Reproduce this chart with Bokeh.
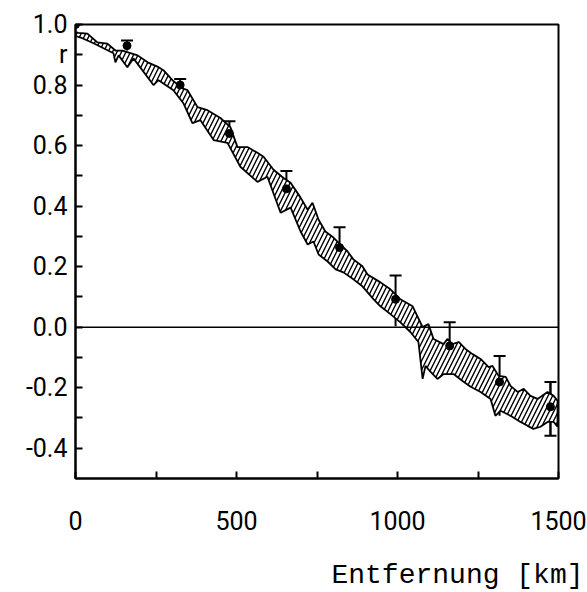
from bokeh.plotting import figure
from bokeh.models import (Range1d, FixedTicker, Span, Whisker, TeeHead,
                          ColumnDataSource, Title)
from bokeh.embed import file_html
from bokeh.resources import INLINE

# ---- data ----
upper_x = [0, 9, 37, 68, 99, 124, 146, 193, 224, 258, 273, 301, 332, 348, 379, 410,
           450, 481, 503, 534, 565, 584, 615, 646, 668, 699, 721, 736, 755, 776, 801,
           823, 845, 863, 891, 907, 947, 978, 1009, 1047, 1062, 1078, 1096, 1112, 1143,
           1155, 1171, 1190, 1211, 1233, 1258, 1283, 1295, 1314, 1336, 1351, 1373, 1392,
           1413, 1435, 1466, 1485, 1497]
upper_r = [0.975, 0.972, 0.970, 0.941, 0.937, 0.914, 0.914, 0.898, 0.875, 0.859, 0.849,
           0.816, 0.789, 0.783, 0.727, 0.717, 0.691, 0.661, 0.595, 0.595, 0.576, 0.563,
           0.520, 0.493, 0.477, 0.428, 0.388, 0.411, 0.355, 0.316, 0.296, 0.273, 0.250,
           0.224, 0.201, 0.174, 0.148, 0.125, 0.092, 0.069, 0.036, 0.000, 0.010, -0.039,
           -0.056, -0.039, -0.056, -0.049, -0.072, -0.089, -0.105, -0.132, -0.128,
           -0.161, -0.164, -0.194, -0.214, -0.204, -0.227, -0.237, -0.214, -0.227, -0.243]
lower_x = [0, 16, 56, 118, 124, 134, 161, 180, 242, 258, 304, 335, 363, 388, 429, 472,
           512, 565, 596, 637, 668, 699, 721, 739, 755, 783, 808, 832, 863, 891, 926,
           947, 978, 1009, 1040, 1065, 1078, 1087, 1103, 1124, 1143, 1174, 1202, 1227,
           1258, 1289, 1304, 1320, 1351, 1382, 1404, 1422, 1444, 1466, 1485, 1497]
lower_r = [0.962, 0.957, 0.938, 0.905, 0.875, 0.898, 0.859, 0.888, 0.800, 0.816, 0.783,
           0.740, 0.674, 0.684, 0.618, 0.609, 0.530, 0.480, 0.497, 0.378, 0.395, 0.316,
           0.273, 0.283, 0.240, 0.217, 0.191, 0.181, 0.158, 0.135, 0.092, 0.069, 0.043,
           0.016, -0.016, -0.049, -0.171, -0.128, -0.148, -0.171, -0.155, -0.155,
           -0.178, -0.197, -0.214, -0.237, -0.293, -0.276, -0.293, -0.313, -0.326,
           -0.336, -0.329, -0.313, -0.313, -0.329]

pt_x = [160, 325, 478, 655, 820, 994, 1162, 1317, 1475]
pt_r = [0.930, 0.800, 0.640, 0.457, 0.263, 0.092, -0.062, -0.181, -0.263]
pt_hi = [0.947, 0.820, 0.680, 0.516, 0.330, 0.171, 0.016, -0.095, -0.181]
pt_lo = [0.914, 0.780, 0.610, 0.395, 0.200, 0.003, -0.155, -0.293, -0.359]

origin_x = [0]
origin_r = [1.0]

x_major = [0, 500, 1000, 1500]
x_minor = [250, 750, 1250]
x_tick_labels = ["0", "500", "1000", "1500"]
y_major = [-0.4, -0.2, 0.0, 0.2, 0.4, 0.6, 0.8, 0.9, 1.0]
y_minor = [-0.3, -0.1, 0.1, 0.3, 0.5, 0.7]
y_tick_labels = ["-0.4", "-0.2", "0.0", "0.2", "0.4", "0.6", "0.8", "r", "1.0"]
x_title = "Entfernung [km]"

FONT = "Roboto"
W, H = 587, 592

p = figure(width=W, height=H, output_backend="svg", toolbar_location=None,
           x_range=Range1d(0, 1500), y_range=Range1d(-0.5, 1.0),
           min_border_left=75, min_border_right=W - 558, min_border_top=24,
           min_border_bottom=H - 478, background_fill_color="white",
           border_fill_color="white")
p.xgrid.visible = False
p.ygrid.visible = False
p.outline_line_color = "black"
p.outline_line_width = 2

for ax in (p.xaxis[0], p.yaxis[0]):
    ax.axis_line_width = 2
    ax.major_tick_in = 7
    ax.major_tick_out = 0
    ax.minor_tick_in = 7
    ax.minor_tick_out = 0
    ax.major_tick_line_width = 2
    ax.minor_tick_line_width = 2
    ax.major_label_text_font = FONT
    ax.major_label_text_font_size = "25px"
    ax.major_label_text_color = "black"

p.xaxis[0].ticker = FixedTicker(ticks=x_major, minor_ticks=x_minor)
p.xaxis[0].major_label_overrides = dict(zip(x_major, x_tick_labels))
p.xaxis[0].major_label_standoff = 32
# invisible spacer label that pushes the right-aligned title further down
p.xaxis[0].axis_label = " "
p.xaxis[0].axis_label_text_font_size = "12px"
p.xaxis[0].axis_label_standoff = 8
p.yaxis[0].ticker = FixedTicker(ticks=y_major, minor_ticks=y_minor)
p.yaxis[0].major_label_overrides = dict(zip(y_major, y_tick_labels))
p.yaxis[0].major_label_standoff = 8

# x-axis title, right aligned below
p.add_layout(Title(text=x_title, align="right", text_font="Liberation Mono",
                   text_font_size="28px", text_font_style="normal",
                   text_color="black", offset=-25, standoff=0), "below")

# zero line
p.add_layout(Span(location=0, dimension="width", line_color="black", line_width=1.5))

# hatched band
band_x = upper_x + lower_x[::-1]
band_y = upper_r + lower_r[::-1]
p.patch(band_x, band_y, fill_color="white", fill_alpha=1.0, line_color="black",
        line_width=1.8, hatch_pattern="/", hatch_color="black", hatch_scale=9,
        hatch_weight=1.4)

# error bars
src = ColumnDataSource(dict(x=pt_x, r=pt_r, hi=pt_hi, lo=pt_lo))
src_last = ColumnDataSource(dict(x=pt_x[-1:], r=pt_r[-1:], hi=pt_hi[-1:], lo=pt_lo[-1:]))
p.add_layout(Whisker(source=src, base="x", upper="hi", lower="lo", line_width=2,
                     line_color="black",
                     upper_head=TeeHead(size=12, line_width=2, line_color="black"),
                     lower_head=None))
p.add_layout(Whisker(source=src_last, base="x", upper="hi", lower="lo", line_width=2,
                     line_color="black",
                     upper_head=None,
                     lower_head=TeeHead(size=12, line_width=2, line_color="black")))
p.scatter(pt_x, pt_r, size=8, color="black")
p.scatter(origin_x, origin_r, size=8, color="black")

open("out.html", "w").write(file_html(p, INLINE))
